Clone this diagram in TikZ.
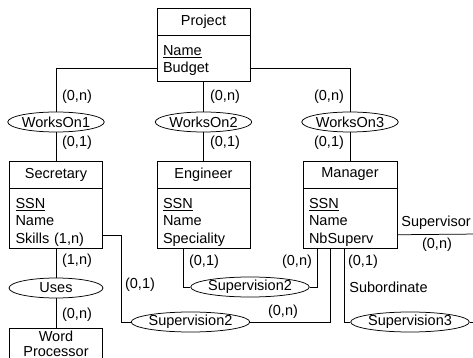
\documentclass[tikz,border=0pt]{standalone}
\usepackage{fontspec}
\setmainfont{Liberation Sans}
\usetikzlibrary{
    calc,
    positioning,
    shapes.geometric
}
\tikzset{
    every picture/.style = {
        x = 1pt,
        y = -1pt,
        line width = 0.75pt
    },
    entity/.style = {
        draw,
        rectangle,
        minimum width = 93pt,
        minimum height = 27pt,
        inner sep = 0pt
    },
    attrs/.style = {
        draw,
        rectangle,
        text width = 81pt,
        align = left,
        inner xsep = 6pt,
        inner ysep = 0pt,
        text height = 19.5pt
    },
    relship/.style = {
        draw,
        ellipse,
        minimum width = 93pt,
        minimum height = 20pt,
        inner sep = 0pt
    },
    card/.style = {
        inner sep = 0pt
    }
}

\begin{document}
\begin{tikzpicture}[font = \fontsize{14.5}{17.5}\selectfont]
    \path[use as bounding box, clip] (0,0) rectangle (473,358);
    % entities
    \node[entity] (proj) at (203.5,21.5) {Project};
    \node[attrs, text depth = 26.5pt, below = 0pt of proj] (projA) {\underline{Name}\\Budget};
    \node[entity] (sec) at (56,174.5) {Secretary};
    \node[attrs, text depth = 40.5pt, below = 0pt of sec] (secA) {\underline{SSN}\\Name\\Skills (1,n)};
    \node[entity] (eng) at (203.5,174.5) {Engineer};
    \node[attrs, text depth = 40.5pt, below = 0pt of eng] (engA) {\underline{SSN}\\Name\\Speciality};
    \node[entity, minimum width = 94pt] (man) at (350,174.5) {Manager};
    \node[attrs, text width = 82pt, text depth = 40.5pt, below = 0pt of man] (manA) {\underline{SSN}\\Name\\NbSuperv};
    \node[attrs, align = center, text height = 13.4pt, text depth = 30pt,
        font = \fontsize{14.5}{14.5}\selectfont, anchor = north] (wp) at (56,328) {Word\\Processor};
    % relationships
    \node[relship] (w1) at (56,122) {WorksOn1};
    \node[relship] (w2) at (203.5,122) {WorksOn2};
    \node[relship] (w3) at (350,122) {WorksOn3};
    \node[relship, minimum width = 94pt] (uses) at (56,288) {Uses};
    \node[relship, minimum width = 106pt] (sup2a) at (250,287) {Supervision2};
    \node[relship, minimum width = 105pt] (sup2b) at (190.5,322) {Supervision2};
    \node[relship, minimum width = 106pt] (sup3) at (410,322) {Supervision3};
    \coordinate (e1) at (480,322);
    \coordinate (e2) at (480,234);
    % links
    \draw ([yshift=-10pt]projA.west) -| (w1);
    \draw (w1) -- (sec);
    \draw (projA) -- (w2) -- (eng);
    \draw ([yshift=-10pt]projA.east) -| (w3);
    \draw (w3) -- (man);
    \draw (secA) -- (uses) -- (wp);
    \draw ([yshift=-17pt]secA.east) -- ++(18,0) |- (sup2b);
    \draw (sup2b) -| ([xshift=-20pt]manA.south);
    \draw ([xshift=-20.5pt]engA.south) |- (sup2a);
    \draw (sup2a) -| ([xshift=-33pt]manA.south);
    \draw ([xshift=-6pt]manA.south) |- (sup3);
    \draw (sup3) -- (e1);
    \draw ([yshift=-16pt]manA.east) -- (e2);
    % cardinalities and roles
    \node[card] (c1) at (77,97) {(0,n)};
    \node[card] (c2) at (77,143) {(0,1)};
    \node[card] (c3) at (225,97) {(0,n)};
    \node[card] (c4) at (225,143) {(0,1)};
    \node[card] (c5) at (329,97) {(0,n)};
    \node[card] (c6) at (329,143) {(0,1)};
    \node[card] (c7) at (77,261) {(1,n)};
    \node[card] (c8) at (77,315) {(0,n)};
    \node[card] (c9) at (140,285) {(0,1)};
    \node[card] (c10) at (283,312) {(0,n)};
    \node[card] (c11) at (204,262) {(0,1)};
    \node[card] (c12) at (297,262) {(0,n)};
    \node[card] (c13) at (363,262) {(0,1)};
    \node[card] (c14) at (437,245) {(0,n)};
    \node[card, anchor = west] (sub) at (349,287) {Subordinate};
    \node[card, anchor = west] (supv) at (401,223) {Supervisor};
\end{tikzpicture}
\end{document}
